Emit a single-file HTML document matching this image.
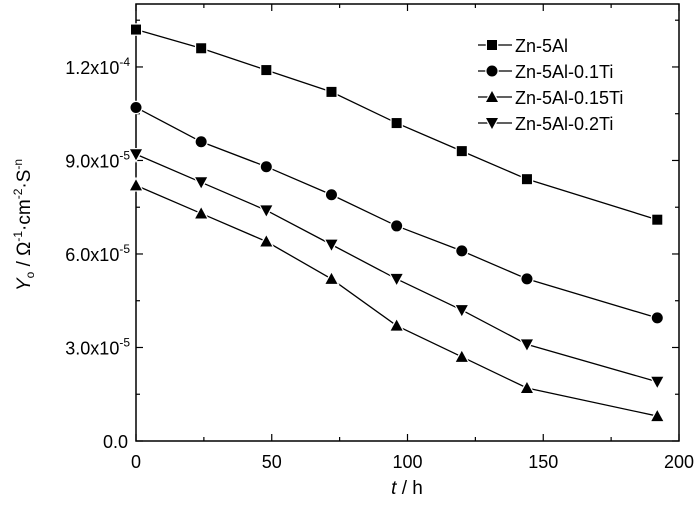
<!DOCTYPE html><html><head><style>body{margin:0;background:#fff}svg{font-family:"Liberation Sans",sans-serif}</style></head><body>
<svg width="700" height="504" viewBox="0 0 700 504" xmlns="http://www.w3.org/2000/svg">
<rect x="136" y="4" width="543" height="437" fill="none" stroke="#000" stroke-width="1.5"/>
<g stroke="#000" stroke-width="1.2" id="ticks"></g>
<g font-size="18" text-anchor="middle" id="xl"></g>
<g font-size="18" text-anchor="end" id="yl"></g>
<text x="407" y="494" font-size="19" text-anchor="middle"><tspan font-style="italic">t</tspan> / h</text>
<text transform="translate(30,225) rotate(-90)" font-size="19" text-anchor="middle"><tspan font-style="italic">Y</tspan><tspan font-size="12" dy="4">o</tspan><tspan dy="-4"> / Ω</tspan><tspan font-size="12" dy="-8">-1</tspan><tspan dy="8">·cm</tspan><tspan font-size="12" dy="-8">-2</tspan><tspan dy="8">·S</tspan><tspan font-size="12" dy="-8">-n</tspan></text>
<g id="series" stroke="#000" stroke-width="1.3" fill="#000"></g>
<g font-size="18" id="leg"></g>
</svg>
<script>
const ns="http://www.w3.org/2000/svg";
function el(p,t,a,txt){const e=document.createElementNS(ns,t);for(const k in a)e.setAttribute(k,a[k]);if(txt!==undefined)e.textContent=txt;document.getElementById(p).appendChild(e);return e;}
const X=h=>136+h*2.715, Y=v=>441-v*31.17;
for(let h=0;h<=200;h+=25){const x=X(h),L=h%50==0?7:4;el('ticks','line',{x1:x,y1:441,x2:x,y2:441-L});el('ticks','line',{x1:x,y1:4,x2:x,y2:4+L});if(h%50==0)el('xl','text',{x:x,y:468},h);}
for(let v=0;v<=13.5;v+=1.5){const y=Y(v),L=(v%3==0)?7:4;el('ticks','line',{x1:136,y1:y,x2:136+L,y2:y});el('ticks','line',{x1:679,y1:y,x2:679-L,y2:y});}
const labs=[["0.0",0],["3.0x10","-5",3],["6.0x10","-5",6],["9.0x10","-5",9],["1.2x10","-4",12]];
labs.forEach(l=>{if(l[0]=="0.0"){el('yl','text',{x:128,y:448},"0.0");return;}const t=el('yl','text',{x:130,y:Y(l[2])+7});t.innerHTML=l[0]+'<tspan font-size="12" dy="-8">'+l[1]+'</tspan>';});
const hs=[0,24,48,72,96,120,144,192];
const data=[[13.2,12.6,11.9,11.2,10.2,9.3,8.4,7.1],[10.7,9.6,8.8,7.9,6.9,6.1,5.2,3.95],[8.2,7.3,6.4,5.2,3.7,2.7,1.7,0.8],[9.2,8.3,7.4,6.3,5.2,4.2,3.1,1.9]];
function mk(p,k,x,y){const a={stroke:'#fff','stroke-width':2.5,'paint-order':'stroke'};const m=(t,o)=>el(p,t,Object.assign(o,a));if(k==0)m('rect',{x:x-5,y:y-5,width:10,height:10});if(k==1)m('circle',{cx:x,cy:y,r:5.5});if(k==2)m('polygon',{points:`${x-6},${y+5} ${x+6},${y+5} ${x},${y-6}`});if(k==3)m('polygon',{points:`${x-6},${y-5} ${x+6},${y-5} ${x},${y+6}`});}
data.forEach((d,k)=>{el('series','polyline',{points:d.map((v,i)=>X(hs[i])+','+Y(v)).join(' '),fill:'none'});d.forEach((v,i)=>mk('series',k,X(hs[i]),Y(v)));});
const names=["Zn-5Al","Zn-5Al-0.1Ti","Zn-5Al-0.15Ti","Zn-5Al-0.2Ti"];
names.forEach((n,k)=>{const y=45+k*26;el('leg','line',{x1:478,y1:y,x2:512,y2:y,stroke:'#000','stroke-width':1.3});mk('leg',k,492,y);el('leg','text',{x:515,y:y+7},n);});
</script></body></html>
